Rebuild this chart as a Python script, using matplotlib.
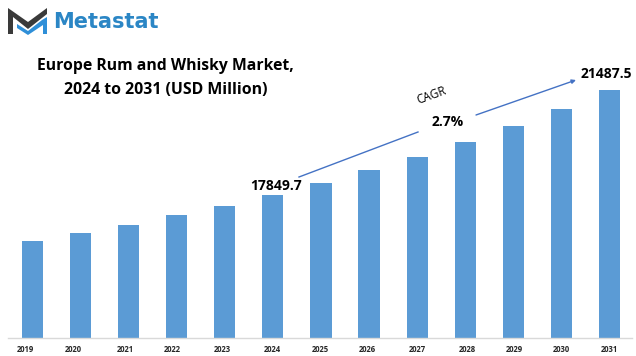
import matplotlib
matplotlib.use("Agg")
import matplotlib.pyplot as plt
from matplotlib.patches import Polygon

years = ["2019", "2020", "2021", "2022", "2023", "2024", "2025",
         "2026", "2027", "2028", "2029", "2030", "2031"]
market = [16256, 16533, 16810, 17157, 17469, 17849.7, 18266,
          18716, 19167, 19686, 20241, 20830, 21487.5]

W, H = 636, 356
BLUE = "#5B9BD5"
FONT = "Open Sans"

fig = plt.figure(figsize=(W / 100, H / 100), dpi=100)

# bars, axes box is placed in picture pixels
ax = fig.add_axes([8 / W, (H - 338) / H, 624 / W, 318 / H])
ax.bar(range(len(years)), market, width=0.44, color=BLUE)
ax.set_xlim(-0.51, 12.47)
ax.set_ylim(12895, 23914)
ax.set_yticks([])
ax.set_xticks([])
for s in ["top", "left", "right"]:
    ax.spines[s].set_visible(False)
ax.spines["bottom"].set_color("#d9d9d9")
ax.spines["bottom"].set_linewidth(1)

# overlay for everything placed by hand
ov = fig.add_axes([0, 0, 1, 1])
ov.set_xlim(0, W)
ov.set_ylim(H, 0)
ov.axis("off")

# the year labels do not sit exactly under the bars in the original
label_x = [25, 73, 125, 172, 222, 272, 320, 367, 417, 467, 514, 561, 609]
for x, y in zip(label_x, years):
    ov.text(x, 349, y, ha="center", va="center", fontsize=5.5,
            fontweight="bold", family=FONT, color="#262626")

ov.text(165.5, 66.5, "Europe Rum and Whisky Market,", ha="center", va="center",
        fontsize=11.3, fontweight="bold", family=FONT, color="black")
ov.text(165.5, 89.5, "2024 to 2031 (USD Million)", ha="center", va="center",
        fontsize=11.4, fontweight="bold", family=FONT, color="black")

ov.text(276, 186, "17849.7", ha="center", va="center", fontsize=10,
        fontweight="bold", family=FONT, color="black")
ov.text(606, 74, "21487.5", ha="center", va="center", fontsize=10,
        fontweight="bold", family=FONT, color="black")
ov.text(448, 122, "2.7%", ha="center", va="center", fontsize=10,
        fontweight="bold", family=FONT, color="black")
ov.text(431, 95, "CAGR", ha="center", va="center", fontsize=8.5, rotation=20,
        fontweight="medium", family=FONT, color="black")

ov.plot([299, 418], [177, 132], color="#4472C4", lw=1)
ov.annotate("", xy=(576, 80), xytext=(476, 115),
            arrowprops=dict(arrowstyle="-|>", color="#4472C4", lw=1,
                            mutation_scale=6, shrinkA=0, shrinkB=0))

# logo
ov.add_patch(Polygon([(8, 8), (28, 22), (47, 8), (47, 14), (28, 29), (13, 17),
                      (13, 34), (8, 34)], closed=True, color="#3a3a3a", lw=0))
ov.add_patch(Polygon([(17, 24), (28, 31), (42, 20), (47, 17), (47, 34), (43, 34),
                      (43, 25), (28, 35), (17, 28)], closed=True, color="#2f8fd8", lw=0))
ov.text(53, 21.5, "Metastat", ha="left", va="center", fontsize=15,
        fontweight="bold", family="DejaVu Sans", color="#2b86c5")

fig.savefig("out.png", dpi=100)
